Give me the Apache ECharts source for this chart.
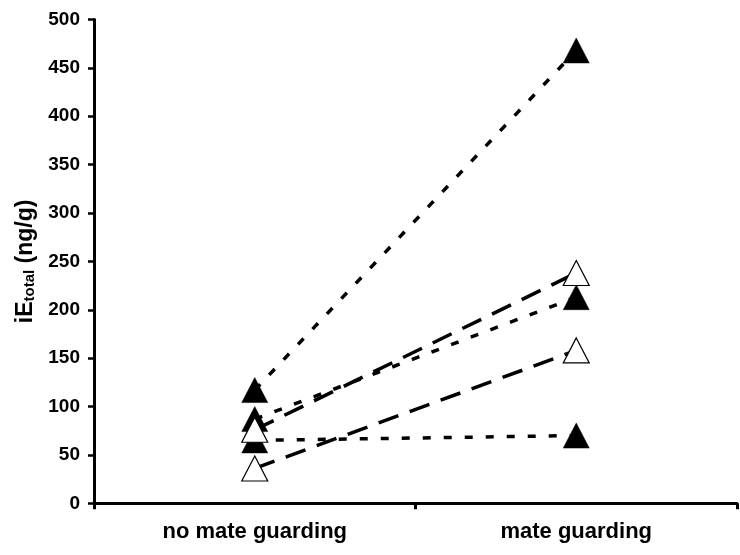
<!DOCTYPE html>
<html>
<head>
<meta charset="utf-8">
<script src="https://cdn.jsdelivr.net/npm/echarts@6/dist/echarts.min.js"></script>
<style>
  html, body { margin: 0; padding: 0; background: #fff; }
  #chart { width: 740px; height: 555px; }
</style>
</head>
<body>
<div id="chart"></div>
<script>
// Conditions on the category axis
const categories = ['no mate guarding', 'mate guarding'];

// Individual males, filled markers (dotted lines)
const filledA = [117, 468];
const filledB = [87, 213];
const filledC = [65, 70];

// Individual males, open markers (long-dash lines)
const openA = [76, 238];
const openB = [36, 158];

// Y tick range
const yMin = 0, yMax = 500, yStep = 50;

const FONT = '"Liberation Sans", Arial, sans-serif';
const INK = '#000';

function pairLine(values, dash) {
  return {
    type: 'line',
    data: values,
    symbol: 'none',
    z: 2,
    silent: true,
    lineStyle: { color: INK, width: 3.5, type: dash, cap: 'butt' }
  };
}

function markers(values, filled) {
  return {
    type: 'scatter',
    data: values,
    symbol: 'triangle',
    symbolSize: [26, 25],
    z: filled ? 4 : 5,
    silent: true,
    itemStyle: filled
      ? { color: INK, borderColor: INK, borderWidth: 0.5, opacity: 1 }
      : { color: '#fff', borderColor: INK, borderWidth: 1.2, opacity: 1 }
  };
}

const dotted = [8, 13];
const longDash = [21, 12];

const chart = echarts.init(document.getElementById('chart'), null, { renderer: 'canvas' });
chart.setOption({
  animation: false,
  backgroundColor: '#fff',
  grid: { left: 94, right: 3, top: 19.5, bottom: 51.7, containLabel: false, outerBoundsMode: 'none' },
  xAxis: {
    type: 'category',
    data: categories,
    boundaryGap: true,
    axisLine: { show: true, onZero: false, lineStyle: { color: INK, width: 3 } },
    axisTick: { show: true, alignWithLabel: false, interval: 0, length: 6, lineStyle: { color: INK, width: 3 } },
    axisLabel: { interval: 0, margin: 18, color: INK, fontFamily: FONT, fontWeight: 'bold', fontSize: 22 },
    splitLine: { show: false }
  },
  yAxis: {
    type: 'value',
    min: yMin, max: yMax, interval: yStep,
    axisLine: { show: true, lineStyle: { color: INK, width: 3 } },
    axisTick: { show: true, length: 6, lineStyle: { color: INK, width: 2.5 } },
    axisLabel: { margin: 14, color: INK, fontFamily: FONT, fontWeight: 'bold', fontSize: 19 },
    splitLine: { show: false },
    name: '{a|iE}{b|total}{a| (ng/g)}',
    nameLocation: 'middle',
    nameRotate: 90,
    nameGap: 57,
    nameTextStyle: {
      color: INK, fontFamily: FONT, fontWeight: 'bold', fontSize: 23,
      rich: {
        a: { color: INK, fontFamily: FONT, fontWeight: 'bold', fontSize: 23, verticalAlign: 'bottom', lineHeight: 27 },
        b: { color: INK, fontFamily: FONT, fontWeight: 'bold', fontSize: 15, verticalAlign: 'bottom', lineHeight: 21 }
      }
    }
  },
  series: [
    pairLine(filledA, dotted),
    pairLine(filledB, dotted),
    pairLine(filledC, dotted),
    pairLine(openA, longDash),
    pairLine(openB, longDash),
    markers(filledA, true),
    markers(filledB, true),
    markers(filledC, true),
    markers(openA, false),
    markers(openB, false)
  ]
});
</script>
</body>
</html>
